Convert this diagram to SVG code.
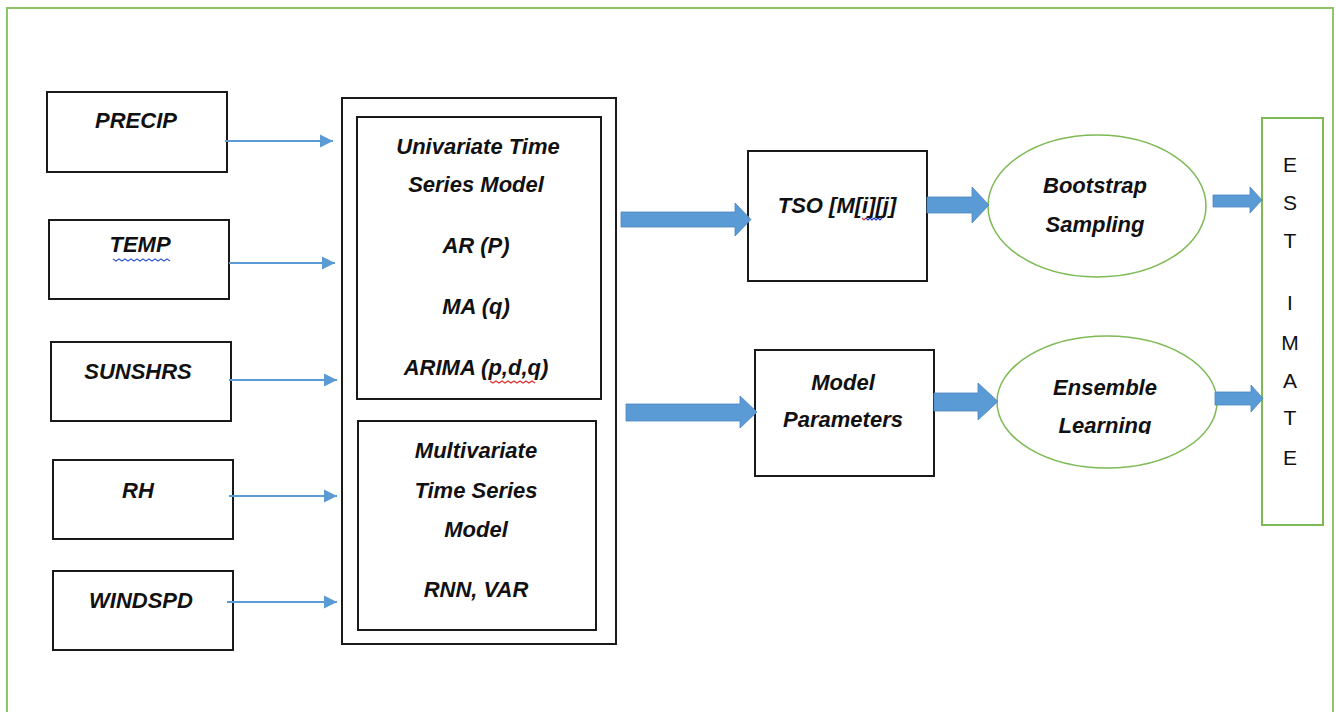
<svg xmlns="http://www.w3.org/2000/svg" width="1336" height="712" viewBox="0 0 1336 712">
<defs>
<style>
.box{fill:#fff;stroke:#1a1a1a;stroke-width:2}
.gbox{fill:#fff;stroke:#7dba55;stroke-width:1.5}
.t{font-family:"Liberation Sans",Arial,sans-serif;font-weight:bold;font-style:italic;font-size:22px;fill:#111;text-anchor:middle}
.e{font-family:"Liberation Sans",Arial,sans-serif;font-size:21px;fill:#111;text-anchor:middle}
.thin{stroke:#5b9bd5;stroke-width:1.8;fill:none}
.big{fill:#5b9bd5;stroke:#4a86bf;stroke-width:0.8}
.sq{fill:none;stroke-width:1.2}
</style>
<marker id="ah" viewBox="0 0 10 10" refX="10" refY="5" markerWidth="7.5" markerHeight="8" orient="auto" markerUnits="strokeWidth">
<path d="M0,0 L10,5 L0,10 z" fill="#5b9bd5"/>
</marker>
</defs>
<rect x="0" y="0" width="1336" height="712" fill="#fff"/>
<rect x="7" y="8" width="1326" height="720" fill="none" stroke="#8cc665" stroke-width="2"/>

<g id="precip"><rect class="box" x="47" y="92" width="180" height="80"/><text class="t" x="136" y="128">PRECIP</text></g>
<g id="temp"><rect class="box" x="49" y="220" width="180" height="79"/><text class="t" x="140" y="252">TEMP</text>
<path class="sq" stroke="#3b5bd9" d="M113,259 l3,2 l3,-2 l3,2 l3,-2 l3,2 l3,-2 l3,2 l3,-2 l3,2 l3,-2 l3,2 l3,-2 l3,2 l3,-2 l3,2 l3,-2 l3,2 l3,-2 l3,2"/></g>
<g id="sunshrs"><rect class="box" x="51" y="342" width="180" height="79"/><text class="t" x="138" y="379">SUNSHRS</text></g>
<g id="rh"><rect class="box" x="53" y="460" width="180" height="79"/><text class="t" x="138" y="498">RH</text></g>
<g id="windspd"><rect class="box" x="53" y="571" width="180" height="79"/><text class="t" x="141" y="608">WINDSPD</text></g>

<g id="models">
<rect class="box" x="342" y="98" width="274" height="546"/>
<g id="univariate"><rect class="box" x="357" y="117" width="244" height="282"/>
<text class="t" x="478" y="154">Univariate Time</text>
<text class="t" x="476" y="192">Series Model</text>
<text class="t" x="476" y="253">AR (P)</text>
<text class="t" x="476" y="314">MA (q)</text>
<text class="t" x="476" y="375">ARIMA (p,d,q)</text>
<path class="sq" stroke="#e03030" d="M490,381 l3,2 l3,-2 l3,2 l3,-2 l3,2 l3,-2 l3,2 l3,-2 l3,2 l3,-2 l3,2 l3,-2 l3,2 l3,-2 l3,2"/>
</g>
<g id="multivariate"><rect class="box" x="358" y="421" width="238" height="209"/>
<text class="t" x="476" y="458">Multivariate</text>
<text class="t" x="476" y="498">Time Series</text>
<text class="t" x="476" y="537">Model</text>
<text class="t" x="476" y="597">RNN, VAR</text>
</g>
</g>

<g id="tso"><rect class="box" x="748" y="151" width="179" height="130"/><text class="t" x="837" y="213">TSO [M[i][j]</text>
<path class="sq" stroke="#e03030" d="M862,218 l2,2 l2,-2"/>
<path class="sq" stroke="#2030d0" d="M866,218 l2,2 l2,-2 l2,2 l2,-2 l2,2 l2,-2 l2,2 l2,-2"/></g>
<g id="model-parameters"><rect class="box" x="755" y="350" width="179" height="126"/><text class="t" x="843" y="390">Model</text><text class="t" x="843" y="427">Parameters</text></g>

<g id="bootstrap"><ellipse class="gbox" cx="1097" cy="206" rx="109" ry="71"/><text class="t" x="1095" y="193">Bootstrap</text><text class="t" x="1095" y="232">Sampling</text></g>
<g id="ensemble"><ellipse class="gbox" cx="1107" cy="402" rx="110" ry="66"/><text class="t" x="1105" y="395">Ensemble</text>
<clipPath id="cl"><rect x="1000" y="400" width="220" height="34"/></clipPath>
<text class="t" x="1105" y="433" clip-path="url(#cl)">Learning</text></g>

<g id="estimate"><rect class="gbox" x="1262" y="118" width="61" height="407" style="stroke-width:2"/>
<text class="e" x="1290" y="172">E</text>
<text class="e" x="1290" y="210">S</text>
<text class="e" x="1290" y="248">T</text>
<text class="e" x="1290" y="310">I</text>
<text class="e" x="1290" y="350">M</text>
<text class="e" x="1290" y="388">A</text>
<text class="e" x="1290" y="425">T</text>
<text class="e" x="1290" y="465">E</text>
</g>

<g id="connectors">
<line class="thin" x1="225" y1="141" x2="333" y2="141" marker-end="url(#ah)"/>
<line class="thin" x1="229" y1="263" x2="335" y2="263" marker-end="url(#ah)"/>
<line class="thin" x1="229" y1="380" x2="337" y2="380" marker-end="url(#ah)"/>
<line class="thin" x1="229" y1="496" x2="337" y2="496" marker-end="url(#ah)"/>
<line class="thin" x1="227" y1="602" x2="337" y2="602" marker-end="url(#ah)"/>
<path class="big" d="M621,212 H735 V203 L751,219.5 L735,236 V227 H621 Z"/>
<path class="big" d="M626,404 H740 V396 L757,412 L740,428 V421 H626 Z"/>
<path class="big" d="M927,197 H972 V187 L989,205 L972,223 V213 H927 Z"/>
<path class="big" d="M934,393 H978 V383 L998,401.5 L978,420 V411 H934 Z"/>
<path class="big" d="M1213,195 H1250 V187 L1262,200 L1250,213 V207 H1213 Z"/>
<path class="big" d="M1215,392 H1251 V385 L1263,398.5 L1251,412 V405 H1215 Z"/>
</g>
</svg>
